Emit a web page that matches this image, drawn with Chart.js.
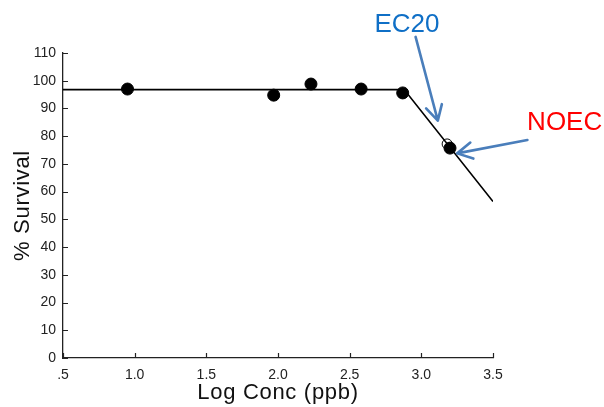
<!DOCTYPE html>
<html>
<head>
<meta charset="utf-8">
<script src="https://cdn.jsdelivr.net/npm/chart.js@4"></script>
<style>
  body { margin: 0; background: #fff; }
  #wrap { width: 604px; height: 407px; }
</style>
</head>
<body>
<div id="wrap"><canvas id="survivalChart" width="604" height="407"></canvas></div>
<script>
// observed survival
const logConc = [0.95, 1.97, 2.23, 2.58, 2.87, 3.20];
const survival = [97.0, 94.8, 98.8, 97.0, 95.6, 75.7];

// fitted hockey-stick model
const fitX = [0.5, 2.88, 3.5];
const fitY = [96.8, 96.8, 56.4];

// EC20 estimate (open circle)
const ec20X = [3.18];
const ec20Y = [77.2];

const xTickLabels = ['.5', '1.0', '1.5', '2.0', '2.5', '3.0', '3.5'];

// callouts: text anchor + arrow from/to, in data units
const callouts = [
    { text: 'EC20', color: '#0f6fc6', at: [2.90, 120.2], from: [2.96, 115.8], to: [3.115, 85.6] },
    { text: 'NOEC', color: '#ff0000', at: [4.00, 84.7], from: [3.74, 78.6], to: [3.25, 73.8] }
];

// ticks pointing into the plot area
const innerTicks = {
    id: 'innerTicks',
    afterLayout(chart) {
        // slightly spaced axis titles, like the original
        ['x', 'y'].forEach(id => {
            const s = chart.scales[id];
            if (!s || s._spaced) return;
            const orig = s.drawTitle.bind(s);
            s.drawTitle = function () {
                const prev = this.ctx.letterSpacing;
                this.ctx.letterSpacing = '0.7px';
                orig();
                this.ctx.letterSpacing = prev || '0px';
            };
            s._spaced = true;
        });
    },
    afterDraw(chart) {
        const ctx = chart.ctx;
        const xs = chart.scales.x, ys = chart.scales.y;
        ctx.save();
        ctx.strokeStyle = '#222';
        ctx.lineWidth = 1.2;
        ctx.beginPath();
        xs.ticks.forEach(t => {
            const px = Math.round(xs.getPixelForValue(t.value)) + 0.5;
            ctx.moveTo(px, xs.top);
            ctx.lineTo(px, xs.top - 5);
        });
        ys.ticks.forEach(t => {
            const py = Math.round(ys.getPixelForValue(t.value)) + 0.5;
            ctx.moveTo(ys.right, py);
            ctx.lineTo(ys.right + 5, py);
        });
        ctx.stroke();
        ctx.restore();
    }
};

const arrowNotes = {
    id: 'arrowNotes',
    afterDraw(chart) {
        const ctx = chart.ctx;
        const xs = chart.scales.x, ys = chart.scales.y;
        ctx.save();
        callouts.forEach(c => {
            const x1 = xs.getPixelForValue(c.from[0]), y1 = ys.getPixelForValue(c.from[1]);
            const x2 = xs.getPixelForValue(c.to[0]), y2 = ys.getPixelForValue(c.to[1]);
            const ang = Math.atan2(y2 - y1, x2 - x1);
            ctx.strokeStyle = '#4a7ebb';
            ctx.lineWidth = 2.6;
            ctx.lineCap = 'round';
            ctx.lineJoin = 'round';
            ctx.beginPath();
            ctx.moveTo(x1, y1);
            ctx.lineTo(x2, y2);
            ctx.moveTo(x2 - 17 * Math.cos(ang - 0.5), y2 - 17 * Math.sin(ang - 0.5));
            ctx.lineTo(x2, y2);
            ctx.lineTo(x2 - 17 * Math.cos(ang + 0.5), y2 - 17 * Math.sin(ang + 0.5));
            ctx.stroke();

            ctx.fillStyle = c.color;
            ctx.font = '26px "Liberation Sans", Arial, sans-serif';
            ctx.textAlign = 'center';
            ctx.textBaseline = 'middle';
            ctx.fillText(c.text, xs.getPixelForValue(c.at[0]), ys.getPixelForValue(c.at[1]));
        });
        ctx.restore();
    }
};

const tickFont = { family: '"Liberation Sans Narrow", "Arial Narrow", "Liberation Sans", sans-serif', size: 14 };
const titleFont = { family: '"Liberation Sans", Arial, sans-serif', size: 22 };

new Chart(document.getElementById('survivalChart'), {
    type: 'scatter',
    data: {
        datasets: [
            {
                label: 'Observed',
                data: logConc.map((x, i) => ({ x: x, y: survival[i] })),
                backgroundColor: '#000',
                borderColor: '#000',
                pointRadius: 6,
                pointHoverRadius: 6
            },
            {
                label: 'EC20',
                data: ec20X.map((x, i) => ({ x: x, y: ec20Y[i] })),
                backgroundColor: 'rgba(0,0,0,0)',
                borderColor: '#000',
                borderWidth: 1,
                pointRadius: 5
            },
            {
                label: 'Fit',
                type: 'line',
                data: fitX.map((x, i) => ({ x: x, y: fitY[i] })),
                borderColor: '#000',
                borderWidth: 1.6,
                pointRadius: 0,
                tension: 0,
                fill: false
            }
        ]
    },
    options: {
        responsive: false,
        animation: false,
        layout: { padding: { left: 0, top: 53, right: 111, bottom: 0 } },
        plugins: {
            legend: { display: false },
            tooltip: { enabled: false }
        },
        scales: {
            x: {
                type: 'linear',
                min: 0.5,
                max: 3.5,
                afterFit: s => { s.height = 49; },
                ticks: {
                    stepSize: 0.5,
                    color: '#222',
                    font: tickFont,
                    padding: 9,
                    maxRotation: 0,
                    callback: (v, i) => xTickLabels[i]
                },
                grid: { display: false, drawTicks: false },
                border: { display: true, color: '#222', width: 1.3 },
                title: {
                    display: true,
                    text: 'Log Conc (ppb)',
                    color: '#111',
                    font: titleFont,
                    padding: { top: 0, bottom: 1 }
                }
            },
            y: {
                min: 0,
                max: 110,
                afterFit: s => { s.width = 63; },
                ticks: {
                    stepSize: 10,
                    color: '#222',
                    font: tickFont,
                    padding: 7
                },
                grid: { display: false, drawTicks: false },
                border: { display: true, color: '#222', width: 1.3 },
                title: {
                    display: true,
                    text: '% Survival',
                    color: '#111',
                    font: titleFont,
                    padding: { top: 10, bottom: 0 }
                }
            }
        }
    },
    plugins: [innerTicks, arrowNotes]
});
</script>
</body>
</html>
